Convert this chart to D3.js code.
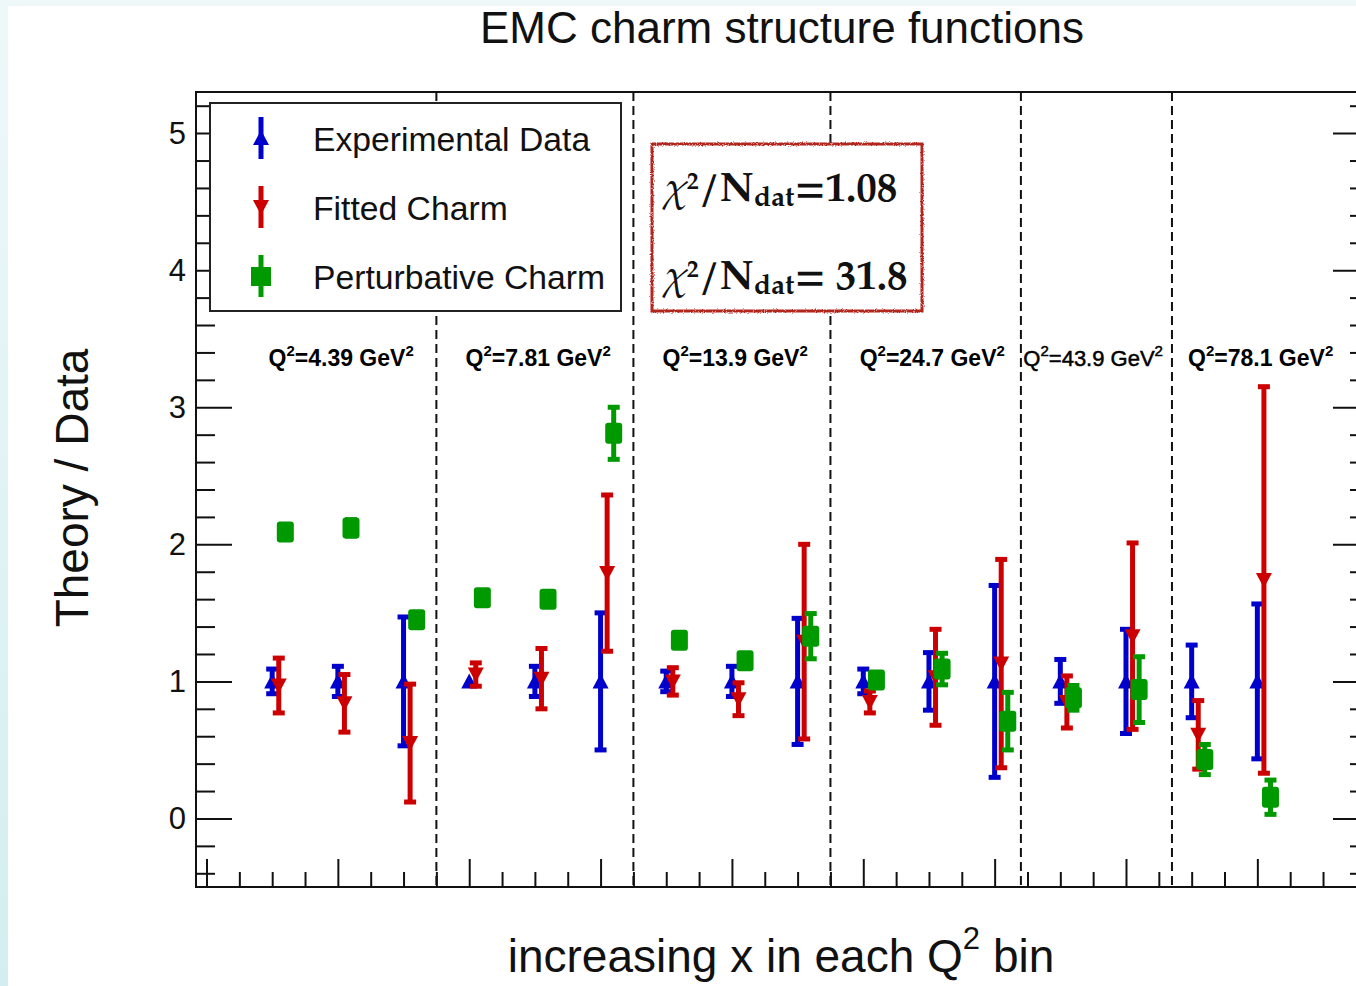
<!DOCTYPE html>
<html><head><meta charset="utf-8">
<script src="https://cdn.jsdelivr.net/npm/d3@7"></script>
<style>
html,body{margin:0;padding:0;background:#fff;}
svg{display:block;}
</style></head><body>
<svg id="chart" width="1356" height="986"></svg>
<script>
// ---- data: Theory/Data ratios per point (x index increases within each Q² bin) ----
const q2Labels   = ["4.39", "7.81", "13.9", "24.7", "43.9", "78.1"];
const binEdges   = [3.5, 6.5, 9.5, 12.4, 14.7];
const pointIndex = [1, 2, 3, 4, 5, 6, 7, 8, 9, 10, 11, 12, 13, 14, 15, 16];

const expValue  = [1, 1, 1, 1, 1, 1, 1, 1, 1, 1, 1, 1, 1, 1, 1, 1];
const expError  = [0.09, 0.11, 0.47, 0.03, 0.11, 0.50, 0.075, 0.11, 0.46, 0.09, 0.21, 0.70, 0.16, 0.38, 0.265, 0.565];
const fitValue  = [0.97, 0.84, 0.55, 1.05, 1.02, 1.79, 1.00, 0.87, 1.29, 0.85, 1.03, 1.13, 0.85, 1.33, 0.61, 1.74];
const fitError  = [0.20, 0.21, 0.43, 0.085, 0.22, 0.57, 0.10, 0.12, 0.71, 0.08, 0.35, 0.76, 0.19, 0.68, 0.25, 1.41];
const pertValue = [2.09, 2.12, 1.45, 1.61, 1.60, 2.81, 1.30, 1.15, 1.33, 1.01, 1.09, 0.71, 0.88, 0.94, 0.43, 0.155];
const pertError = [0.04, 0.06, 0.05, 0.04, 0.04, 0.19, 0.02, 0.05, 0.165, 0.02, 0.115, 0.21, 0.09, 0.24, 0.11, 0.125];

const yTickValues  = [0, 1, 2, 3, 4, 5];
const seriesNames  = ["Experimental Data", "Fitted Charm", "Perturbative Charm"];
const chi2Values   = ["=1.08", "= 31.8"];

// ---- layout ----
const W = 1356, H = 986;
const svg = d3.select("#chart");
const SANS = "'Liberation Sans', Arial, Helvetica, sans-serif";
const SERIF = "'Palatino Linotype', 'TeX Gyre Pagella', 'Liberation Serif', 'DejaVu Serif', serif";
const colors = { exp: "#0000cc", fit: "#cc0000", pert: "#009900" };

const x = d3.scaleLinear().domain([-0.16, 17.7]).range([196, 1369]);
const y = d3.scaleLinear().domain([-0.5, 5.3]).range([887, 92]);

// page backdrop with pale border strip
const defs = svg.append("defs");
const bg = defs.append("linearGradient").attr("id", "bg").attr("x1", 0).attr("y1", 0).attr("x2", 0).attr("y2", 1);
bg.append("stop").attr("offset", "0%").attr("stop-color", "#eef8f9");
bg.append("stop").attr("offset", "100%").attr("stop-color", "#d3eef0");
const rough = defs.append("filter").attr("id", "rough").attr("x", "-5%").attr("y", "-5%").attr("width", "110%").attr("height", "110%");
rough.append("feTurbulence").attr("type", "fractalNoise").attr("baseFrequency", 0.9).attr("numOctaves", 2).attr("seed", 3).attr("result", "noise");
rough.append("feDisplacementMap").attr("in", "SourceGraphic").attr("in2", "noise").attr("scale", 3);

svg.append("rect").attr("width", W).attr("height", H).attr("fill", "url(#bg)");
svg.append("rect").attr("x", 8).attr("y", 6).attr("width", W - 8).attr("height", H - 6).attr("fill", "#fff");

// title
svg.append("text").attr("x", 782).attr("y", 43).attr("text-anchor", "middle")
  .attr("font-family", SANS).attr("font-size", 44).attr("fill", "#111")
  .text("EMC charm structure functions");

const plot = svg.append("g");

// Q² bin separators
plot.selectAll("line.sep").data(binEdges).join("line").attr("class", "sep")
  .attr("x1", d => x(d)).attr("x2", d => x(d))
  .attr("y1", y.range()[1]).attr("y2", y.range()[0])
  .attr("stroke", "#111").attr("stroke-width", 2).attr("stroke-dasharray", "9,5");

// axis ticks (all pointing into the frame)
const yMinor = d3.range(-4, 53, 2).map(v => v / 10).filter(v => !yTickValues.includes(v));
const xMajor = d3.range(0, 17, 2);
const xMinor = d3.range(0, 35).map(v => v / 2).filter(v => !xMajor.includes(v));

function tickGroup(axis, transform) {
  const g = plot.append("g").attr("transform", transform).call(axis);
  g.select(".domain").remove();
  g.selectAll(".tick line").attr("stroke", "#111").attr("stroke-width", 2);
  return g;
}
const left = tickGroup(d3.axisLeft(y).tickValues(yTickValues).tickSize(-36).tickPadding(10).tickFormat(d3.format("d")), `translate(${x.range()[0]},0)`);
left.selectAll("text").attr("font-family", SANS).attr("font-size", 31).attr("fill", "#111");
tickGroup(d3.axisLeft(y).tickValues(yMinor).tickSize(-19).tickFormat(""), `translate(${x.range()[0]},0)`);
tickGroup(d3.axisRight(y).tickValues(yTickValues).tickSize(-36).tickFormat(""), `translate(${x.range()[1]},0)`);
tickGroup(d3.axisRight(y).tickValues(yMinor).tickSize(-19).tickFormat(""), `translate(${x.range()[1]},0)`);
tickGroup(d3.axisBottom(x).tickValues(xMajor).tickSize(-28).tickFormat(""), `translate(0,${y.range()[0]})`);
tickGroup(d3.axisBottom(x).tickValues(xMinor).tickSize(-15).tickFormat(""), `translate(0,${y.range()[0]})`);

// frame
plot.append("rect").attr("x", x.range()[0]).attr("y", y.range()[1])
  .attr("width", x.range()[1] - x.range()[0]).attr("height", y.range()[0] - y.range()[1])
  .attr("fill", "none").attr("stroke", "#111").attr("stroke-width", 2);

// marker shapes
const triUp = "M0,-8L8,7L-8,7Z";
const triDown = "M0,8L8,-7L-8,-7Z";
const markerHalf = 8;

// error bars are only drawn where they reach beyond the marker
function drawSeries(values, errors, offset, color, marker) {
  const pts = pointIndex.map((k, i) => ({ k: k + offset, v: values[i], e: errors[i] }));
  const barPts = pts.filter(d => y(d.v - d.e) - y(d.v) > markerHalf);
  const g = plot.append("g");
  g.selectAll("line.bar").data(barPts).join("line")
    .attr("x1", d => x(d.k)).attr("x2", d => x(d.k))
    .attr("y1", d => y(d.v - d.e)).attr("y2", d => y(d.v + d.e))
    .attr("stroke", color).attr("stroke-width", 5);
  ["lo", "hi"].forEach(end => {
    g.selectAll("line.cap-" + end).data(barPts).join("line")
      .attr("x1", d => x(d.k) - 6).attr("x2", d => x(d.k) + 6)
      .attr("y1", d => y(end === "lo" ? d.v - d.e : d.v + d.e))
      .attr("y2", d => y(end === "lo" ? d.v - d.e : d.v + d.e))
      .attr("stroke", color).attr("stroke-width", 5);
  });
  if (marker === "square") {
    g.selectAll("rect.mk").data(pts).join("rect")
      .attr("x", d => x(d.k) - 8.5).attr("y", d => y(d.v) - 10.5)
      .attr("width", 17).attr("height", 21).attr("rx", 3).attr("fill", color);
  } else {
    g.selectAll("path.mk").data(pts).join("path")
      .attr("transform", d => `translate(${x(d.k)},${y(d.v)})`)
      .attr("d", marker).attr("fill", color);
  }
}
drawSeries(expValue, expError, 0, colors.exp, triUp);
drawSeries(fitValue, fitError, 0.1, colors.fit, triDown);
drawSeries(pertValue, pertError, 0.2, colors.pert, "square");

// Q² bin labels
const q2LabelAt = [2.05, 5.05, 8.05, 11.05, 13.5, 16.05];
q2Labels.forEach((q, i) => {
  const t = plot.append("text").attr("x", x(q2LabelAt[i])).attr("y", y(3.3))
    .attr("text-anchor", "middle").attr("font-family", SANS)
    .attr("font-size", i === 4 ? 22 : 23).attr("font-weight", i === 4 ? "normal" : "bold").attr("fill", "#000");
  if (i === 4) t.attr("stroke", "#000").attr("stroke-width", 0.5);
  t.append("tspan").text("Q");
  t.append("tspan").attr("dy", -10).attr("font-size", 15).text("2");
  t.append("tspan").attr("dy", 10).text("=" + q + " GeV");
  t.append("tspan").attr("dy", -10).attr("font-size", 15).text("2");
});

// legend
const leg = svg.append("g");
leg.append("rect").attr("x", 210).attr("y", 103).attr("width", 411).attr("height", 208)
  .attr("fill", "#fff").attr("stroke", "#222").attr("stroke-width", 2);
const legRows = [
  { c: colors.exp, m: triUp }, { c: colors.fit, m: triDown }, { c: colors.pert, m: "square" }
];
legRows.forEach((r, i) => {
  const cy = 138 + i * 69;
  leg.append("line").attr("x1", 261).attr("x2", 261).attr("y1", cy - 21).attr("y2", cy + 21)
    .attr("stroke", r.c).attr("stroke-width", 5);
  if (r.m === "square") {
    leg.append("rect").attr("x", 251).attr("y", cy - 9).attr("width", 20).attr("height", 19).attr("fill", r.c);
  } else {
    leg.append("path").attr("transform", `translate(261,${cy})`).attr("d", r.m).attr("fill", r.c);
  }
  leg.append("text").attr("x", 313).attr("y", cy + 13).attr("font-family", SANS).attr("font-size", 33.7)
    .attr("fill", "#111").text(seriesNames[i]);
});

// chi² summary box
const box = svg.append("g");
box.append("rect").attr("x", 652).attr("y", 144).attr("width", 270).attr("height", 167).attr("fill", "#fff");
box.append("rect").attr("x", 652).attr("y", 144).attr("width", 270).attr("height", 167)
  .attr("fill", "none").attr("stroke", "#b3261e").attr("stroke-width", 3).attr("filter", "url(#rough)");
chi2Values.forEach((v, i) => {
  const t = box.append("text").attr("x", 664).attr("y", 201 + i * 88)
    .attr("font-family", SERIF).attr("font-size", 41).attr("font-weight", "bold").attr("fill", "#111");
  t.append("tspan").attr("font-style", "italic").attr("font-weight", "normal").text("χ");
  t.append("tspan").attr("dy", -12).attr("font-size", 24).text("2");
  t.append("tspan").attr("dy", 12).text("/N");
  t.append("tspan").attr("dy", 5).attr("font-size", 28).text("dat");
  t.append("tspan").attr("dy", -5).text(v);
});

// axis titles
const xl = svg.append("text").attr("x", 781).attr("y", 972).attr("text-anchor", "middle")
  .attr("font-family", SANS).attr("font-size", 46).attr("fill", "#111");
xl.append("tspan").text("increasing x in each Q");
xl.append("tspan").attr("dy", -23).attr("font-size", 31).text("2");
xl.append("tspan").attr("dy", 23).text(" bin");

svg.append("text").attr("transform", "translate(88,488) rotate(-90)").attr("text-anchor", "middle")
  .attr("font-family", SANS).attr("font-size", 46).attr("fill", "#111").text("Theory / Data");
</script>
</body></html>
